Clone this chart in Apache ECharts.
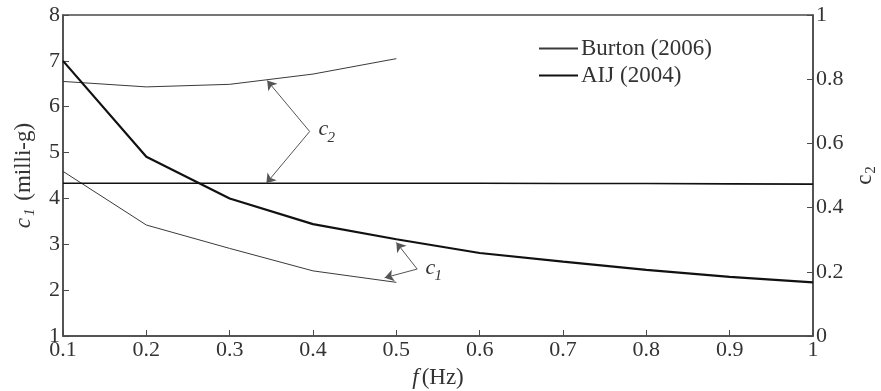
<!DOCTYPE html>
<html>
<head>
<meta charset="utf-8">
<script src="https://cdn.jsdelivr.net/npm/echarts@6/dist/echarts.min.js"></script>
<style>
  html, body { margin: 0; padding: 0; background: #fff; }
  #chart { width: 881px; height: 391px; }
</style>
</head>
<body>
<div id="chart"></div>
<script>
// Frequencies (Hz)
const aijFreq = [0.1, 0.2, 0.3, 0.4, 0.5, 0.6, 0.7, 0.8, 0.9, 1.0];
const burtonFreq = [0.1, 0.2, 0.3, 0.4, 0.5];

// Burton (2006): c1 in milli-g (left axis), c2 dimensionless (right axis)
const burtonC1 = [4.59, 3.42, 2.91, 2.42, 2.17];
const burtonC2 = [0.793, 0.776, 0.784, 0.816, 0.864];

// AIJ (2004)
const aijC1 = [7.0, 4.91, 4.0, 3.44, 3.11, 2.81, 2.62, 2.44, 2.29, 2.17];
const aijC2 = [0.476, 0.476, 0.476, 0.476, 0.476, 0.476, 0.475, 0.475, 0.474, 0.473];

// Axis tick labels
const xTicks = ['0.1', '0.2', '0.3', '0.4', '0.5', '0.6', '0.7', '0.8', '0.9', '1'];
const c1Ticks = ['1', '2', '3', '4', '5', '6', '7', '8'];
const c2Ticks = ['0', '0.2', '0.4', '0.6', '0.8', '1'];

const SERIF = "'Liberation Serif', 'Times New Roman', serif";
const INK = '#333';
const AXIS = '#4a4a4a';

const pairs = (xs, ys) => xs.map((x, i) => [x, ys[i]]);

const chart = echarts.init(document.getElementById('chart'), null, { renderer: 'canvas' });

// Pointer arrows: tail at the label, head on the curve (left-axis units)
const arrows = [
  [[0.396, 5.46], [0.345, 6.57]],
  [[0.396, 5.46], [0.344, 4.33]],
  [[0.525, 2.46], [0.500, 3.04]],
  [[0.525, 2.46], [0.486, 2.27]]
];

const axisLabelStyle = { fontFamily: SERIF, fontSize: 22, color: INK };

chart.setOption({
  animation: false,
  backgroundColor: '#fff',
  grid: {
    left: 63, right: 68, top: 15, bottom: 55,
    containLabel: false,
    outerBoundsMode: 'none',
    show: true, borderColor: AXIS, borderWidth: 1.5, backgroundColor: 'transparent'
  },
  legend: {
    orient: 'vertical',
    left: 533, top: 32,
    itemWidth: 39, itemHeight: 14, itemGap: 4,
    itemStyle: { opacity: 0 },
    textStyle: { fontFamily: SERIF, fontSize: 23, color: INK, padding: [0, 0, 0, -2] },
    data: ['Burton (2006)', 'AIJ (2004)']
  },
  xAxis: {
    type: 'value',
    min: parseFloat(xTicks[0]), max: parseFloat(xTicks[xTicks.length - 1]), interval: 0.1,
    name: '{f|f}{t|(Hz)}',
    nameLocation: 'middle', nameGap: 30, nameMoveOverlap: false,
    nameTextStyle: {
      rich: {
        f: { fontFamily: SERIF, fontSize: 23, fontStyle: 'italic', color: INK, padding: [0, 3, 0, 0] },
        t: { fontFamily: SERIF, fontSize: 23, color: INK }
      }
    },
    axisLine: { lineStyle: { color: AXIS, width: 1.5 } },
    axisTick: { inside: true, length: 6, lineStyle: { color: AXIS } },
    axisLabel: Object.assign({ margin: 3, formatter: v => xTicks[Math.round((v - 0.1) * 10)] }, axisLabelStyle),
    splitLine: { show: false }
  },
  yAxis: [
    {
      type: 'value', position: 'left',
      min: +c1Ticks[0], max: +c1Ticks[c1Ticks.length - 1], interval: 1,
      name: '{c|c}{s|1}{t| (milli-g)}',
      nameLocation: 'middle', nameGap: 25, nameRotate: 90, nameMoveOverlap: false,
      nameTextStyle: {
        rich: {
          c: { fontFamily: SERIF, fontSize: 23, fontStyle: 'italic', color: INK },
          s: { fontFamily: SERIF, fontSize: 15, fontStyle: 'italic', color: INK, padding: [13, 2, 0, 2] },
          t: { fontFamily: SERIF, fontSize: 23, color: INK }
        }
      },
      axisLine: { show: true, lineStyle: { color: AXIS, width: 1.5 } },
      axisTick: { show: true, inside: true, length: 6, lineStyle: { color: AXIS } },
      axisLabel: Object.assign({ margin: 3 }, axisLabelStyle),
      splitLine: { show: false }
    },
    {
      type: 'value', position: 'right',
      min: +c2Ticks[0], max: +c2Ticks[c2Ticks.length - 1], interval: 0.2,
      name: '{c|c}{s|2}',
      nameLocation: 'middle', nameGap: 38, nameRotate: 90, nameMoveOverlap: false,
      nameTextStyle: {
        rich: {
          c: { fontFamily: SERIF, fontSize: 23, color: INK },
          s: { fontFamily: SERIF, fontSize: 15, color: INK, padding: [13, 0, 0, 1] }
        }
      },
      axisLine: { show: true, lineStyle: { color: AXIS, width: 1.5 } },
      axisTick: { show: true, inside: true, length: 6, lineStyle: { color: AXIS } },
      axisLabel: Object.assign({ margin: 3, formatter: v => c2Ticks[Math.round(v * 5)] }, axisLabelStyle),
      splitLine: { show: false }
    }
  ],
  series: [
    {
      name: 'Burton (2006)', type: 'line', yAxisIndex: 0,
      data: pairs(burtonFreq, burtonC1), symbol: 'none',
      lineStyle: { color: '#3a3a3a', width: 1 }, itemStyle: { color: '#3a3a3a' }
    },
    {
      name: 'Burton (2006)', type: 'line', yAxisIndex: 1,
      data: pairs(burtonFreq, burtonC2), symbol: 'none',
      lineStyle: { color: '#3a3a3a', width: 1 }, itemStyle: { color: '#3a3a3a' }
    },
    {
      name: 'AIJ (2004)', type: 'line', yAxisIndex: 0,
      data: pairs(aijFreq, aijC1), symbol: 'none',
      lineStyle: { color: '#111', width: 2.2 }, itemStyle: { color: '#111' },
      markLine: {
        silent: true, animation: false,
        label: { show: false },
        lineStyle: { color: '#555', width: 1, type: 'solid' },
        data: arrows.map(([a, b]) => [
          { coord: a, symbol: 'none' },
          { coord: b, symbol: 'arrow', symbolSize: 9 }
        ])
      }
    },
    {
      name: 'AIJ (2004)', type: 'line', yAxisIndex: 1,
      data: pairs(aijFreq, aijC2), symbol: 'none',
      lineStyle: { color: '#111', width: 1.6 }, itemStyle: { color: '#111' }
    }
  ]
});

// Curve labels next to the arrow tails
function curveLabel(at, sub) {
  const p = chart.convertToPixel({ xAxisIndex: 0, yAxisIndex: 0 }, at);
  return {
    type: 'group', x: p[0], y: p[1], silent: true,
    children: [
      { type: 'text', x: 0, y: 0, style: { text: 'c', font: 'italic 22px ' + SERIF, fill: INK, textVerticalAlign: 'middle' } },
      { type: 'text', x: 9, y: 8, style: { text: sub, font: 'italic 15px ' + SERIF, fill: INK, textVerticalAlign: 'middle' } }
    ]
  };
}
chart.setOption({
  graphic: [
    curveLabel([0.4065, 5.50], '2'),
    curveLabel([0.5350, 2.48], '1')
  ]
});
</script>
</body>
</html>
